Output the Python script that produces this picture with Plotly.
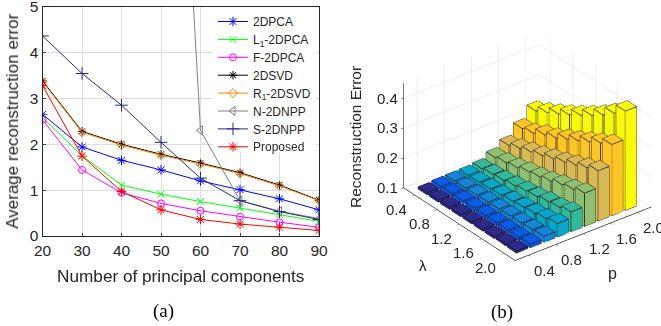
import plotly.graph_objects as go

W, H = 661, 326
comps = [20, 30, 40, 50, 60, 70, 80, 90]
pca = [2.65, 1.94, 1.65, 1.44, 1.20, 1.01, 0.81, 0.57]
l1pca = [2.58, 1.75, 1.11, 0.91, 0.75, 0.61, 0.46, 0.32]
fpca = [2.53, 1.44, 0.94, 0.71, 0.55, 0.42, 0.30, 0.19]
svd = [3.38, 2.28, 2.00, 1.78, 1.59, 1.38, 1.11, 0.78]
r1svd = [3.36, 2.26, 1.98, 1.76, 1.57, 1.36, 1.09, 0.77]
nnpp = [60.0, 45.0, 30.0, 17.5, 2.30, 0.77, 0.54, 0.38]
snpp = [4.36, 3.54, 2.85, 2.04, 1.26, 0.77, 0.53, 0.36]
proposed = [3.28, 1.74, 0.97, 0.57, 0.36, 0.26, 0.19, 0.12]

lams = [0.4, 0.6, 0.8, 1.0, 1.2, 1.4, 1.6, 1.8, 2.0]
ps = [0.4, 0.6, 0.8, 1.0, 1.2, 1.4, 1.6, 1.8, 2.0]
err_p04 = [.107, .107, .107, .107, .107, .107, .107, .107, .107]
err_p06 = [.110, .110, .110, .110, .110, .110, .110, .110, .111]
err_p08 = [.111, .111, .112, .113, .114, .115, .116, .118, .120]
err_p10 = [.112, .113, .115, .118, .122, .126, .130, .137, .145]
err_p12 = [.116, .121, .125, .131, .138, .143, .151, .156, .166]
err_p14 = [.135, .142, .149, .160, .167, .177, .190, .199, .211]
err_p16 = [.158, .171, .184, .196, .210, .223, .238, .253, .268]
err_p18 = [.196, .205, .224, .238, .258, .277, .298, .318, .338]
err_p20 = [.237, .256, .276, .297, .320, .344, .370, .400, .432]
errors = [err_p04, err_p06, err_p08, err_p10, err_p12, err_p14, err_p16, err_p18, err_p20]
row_colors = ['#2E2A8C', '#0A5CE6', '#1585D8', '#0AA5C8', '#35B79A', '#8FBF70', '#D9B955', '#FDC527', '#F9F90F']
tick3d = [0.4, 0.8, 1.2, 1.6, 2.0]
ztick = [0.1, 0.2, 0.3, 0.4]

fig = go.Figure()
TXT = '#262626'
series = [
    ('2DPCA', pca, '#0000FF', 'asterisk-open', 8),
    ('L<sub>1</sub>-2DPCA', l1pca, '#00FF00', 'x-thin-open', 7),
    ('F-2DPCA', fpca, '#FF00FF', 'circle-open', 7),
    ('2DSVD', svd, '#000000', 'asterisk-open', 7),
    ('R<sub>1</sub>-2DSVD', r1svd, '#FF8000', 'diamond-open', 7),
    ('N-2DNPP', nnpp, '#808080', 'triangle-left-open', 8),
    ('S-2DNPP', snpp, '#2A2A80', 'cross-thin-open', 9),
    ('Proposed', proposed, '#FF0000', 'asterisk-open', 8),
]
for name, vals, col, sym, size in series:
    fig.add_trace(go.Scatter(x=comps, y=vals, name=name, mode='lines+markers',
                             line=dict(color=col, width=1),
                             marker=dict(symbol=sym, size=size, color=col, line=dict(color=col, width=1))))

fig.update_layout(
    width=W, height=H, autosize=False, margin=dict(l=0, r=0, t=0, b=0),
    paper_bgcolor='white', plot_bgcolor='white',
    font=dict(family='Liberation Sans', color=TXT, size=15),
    xaxis=dict(domain=[42.5/W, 319/W], range=[20, 90], tickvals=comps, ticks='inside', ticklen=3, automargin=False,
               showline=True, mirror=True, linecolor='#262626', linewidth=1, gridcolor='#DCDCDC',
               zeroline=False, title=dict(text='Number of principal components', font=dict(size=17.2), standoff=12),
               tickfont=dict(size=15.5)),
    yaxis=dict(domain=[1-236/H, 1-6.5/H], range=[0, 5], tickvals=[0, 1, 2, 3, 4, 5], ticks='inside', ticklen=3, automargin=False,
               showline=True, mirror=True, linecolor='#262626', linewidth=1, gridcolor='#DCDCDC', ticklabeloverflow='allow',
               zeroline=False, title=dict(text='Average reconstruction error', font=dict(size=17), standoff=6),
               tickfont=dict(size=15.5)),
    legend=dict(x=213/W, y=1-7/H, xanchor='left', yanchor='top', bgcolor='white', borderwidth=0,
                font=dict(size=12), tracegroupgap=0, itemwidth=30),
)

# 3D bars
hw = 0.082
vx, vy, vz, ii, jj, kk, fc = [], [], [], [], [], [], []
ex, ey, ez = [], [], []
for pi, p in enumerate(ps):
    for li, lam in enumerate(lams):
        z1 = errors[pi][li]
        z0 = 0.1
        n = len(vx)
        xs = [lam-hw, lam+hw]
        ys = [p-hw, p+hw]
        corners = [(xs[a], ys[b], zz) for zz in (z0, z1) for a, b in ((0, 0), (1, 0), (1, 1), (0, 1))]
        for c in corners:
            vx.append(c[0]); vy.append(c[1]); vz.append(c[2])
        tris = [(0,1,2),(0,2,3),(4,5,6),(4,6,7),(0,1,5),(0,5,4),(1,2,6),(1,6,5),(2,3,7),(2,7,6),(3,0,4),(3,4,7)]
        for t in tris:
            ii.append(n+t[0]); jj.append(n+t[1]); kk.append(n+t[2]); fc.append(row_colors[pi])
        for a, b in [(0,1),(1,2),(2,3),(3,0),(4,5),(5,6),(6,7),(7,4),(0,4),(1,5),(2,6),(3,7)]:
            ca, cb = corners[a], corners[b]
            ex += [ca[0], cb[0], None]; ey += [ca[1], cb[1], None]; ez += [ca[2], cb[2], None]

fig.add_trace(go.Mesh3d(x=vx, y=vy, z=vz, i=ii, j=jj, k=kk, facecolor=fc, flatshading=True,
                        lighting=dict(ambient=1.0, diffuse=0, specular=0, roughness=1, fresnel=0),
                        showlegend=False, showscale=False, hoverinfo='skip', scene='scene'))
fig.add_trace(go.Scatter3d(x=ex, y=ey, z=ez, mode='lines', line=dict(color='#111111', width=1.5),
                           showlegend=False, hoverinfo='skip', scene='scene'))

ax3 = dict(showbackground=False, gridcolor='#DDDDDD', gridwidth=1, showline=True, linecolor='#262626', linewidth=1.5,
           zeroline=False, ticks='outside', ticklen=3, tickcolor='#262626', showspikes=False, showticklabels=False,
           title=dict(text=''))
EYE = 1.4
SC = 1.2
CX, CY, CZ = -0.0569, -0.1641, -0.0945
tf = dict(size=15, color=TXT, family='Liberation Sans')
scene_ann = []
for v in tick3d:
    scene_ann.append(dict(x=v, y=0.2, z=0.1, text=f'{v:.1f}', showarrow=False, xshift=-18, yshift=-14, font=tf))
    scene_ann.append(dict(x=2.2, y=v, z=0.1, text=f'{v:.1f}', showarrow=False, xshift=16, yshift=-15, font=tf))
for v in ztick:
    scene_ann.append(dict(x=0.2, y=0.2, z=v, text=f'{v:.1f}', showarrow=False, xshift=-16, yshift=0, font=tf))

fig.update_layout(scene=dict(
    domain=dict(x=[340/W, 1], y=[0, 1]),
    xaxis=dict(ax3, range=[0.2, 2.2], tickvals=tick3d),
    yaxis=dict(ax3, range=[0.2, 2.2], tickvals=tick3d),
    zaxis=dict(ax3, range=[0.1, 0.45], tickvals=ztick),
    aspectmode='manual', aspectratio=dict(x=0.93*SC, y=0.88*SC, z=0.62*SC),
    annotations=scene_ann,
    camera=dict(projection=dict(type='orthographic'), up=dict(x=0, y=0, z=1), center=dict(x=CX, y=CY, z=CZ),
                eye=dict(x=0.683*EYE+CX, y=-0.530*EYE+CY, z=0.507*EYE+CZ)),
))

anc = dict(xref='paper', yref='paper', showarrow=False, xanchor='center', yanchor='middle')
fig.update_layout(annotations=[
    dict(anc, text='(a)', x=163/W, y=1-311/H, font=dict(family='Liberation Serif', size=19, color='black')),
    dict(anc, text='(b)', x=502/W, y=1-312/H, font=dict(family='Liberation Serif', size=19, color='black')),
    dict(anc, text='Reconstruction Error', x=355/W, y=1-137/H, textangle=-90, font=dict(size=15.5, color=TXT)),
    dict(anc, text='λ', x=423/W, y=1-265/H, font=dict(size=15, color=TXT)),
    dict(anc, text='p', x=612/W, y=1-273/H, font=dict(size=16, color=TXT)),
])

post = """
document.body.style.margin='0';document.body.style.overflow='hidden';
(function(){
  var gd=document.getElementById('{plot_id}');
  var first=null;
  function fix(){
    var rows=gd.querySelectorAll('.legend .traces');
    if(!rows.length) return;
    rows.forEach(function(g,i){
      var m=/translate\\(([^,]+),\\s*([^)]+)\\)/.exec(g.getAttribute('transform')||'');
      if(!m) return;
      if(i===0 && first===null) first=parseFloat(m[2]);
      g.setAttribute('transform','translate('+m[1]+','+(first+i*17.9)+')');
    });
    var bg=gd.querySelector('.legend .bg');
    if(bg) bg.setAttribute('height','145');
  }
  fix();
  if(gd.on) gd.on('plotly_afterplot',fix);
  setTimeout(fix,100);setTimeout(fix,500);setTimeout(fix,1500);
})();
"""
fig.write_html('out.html', post_script=post, config={'displayModeBar': False})
